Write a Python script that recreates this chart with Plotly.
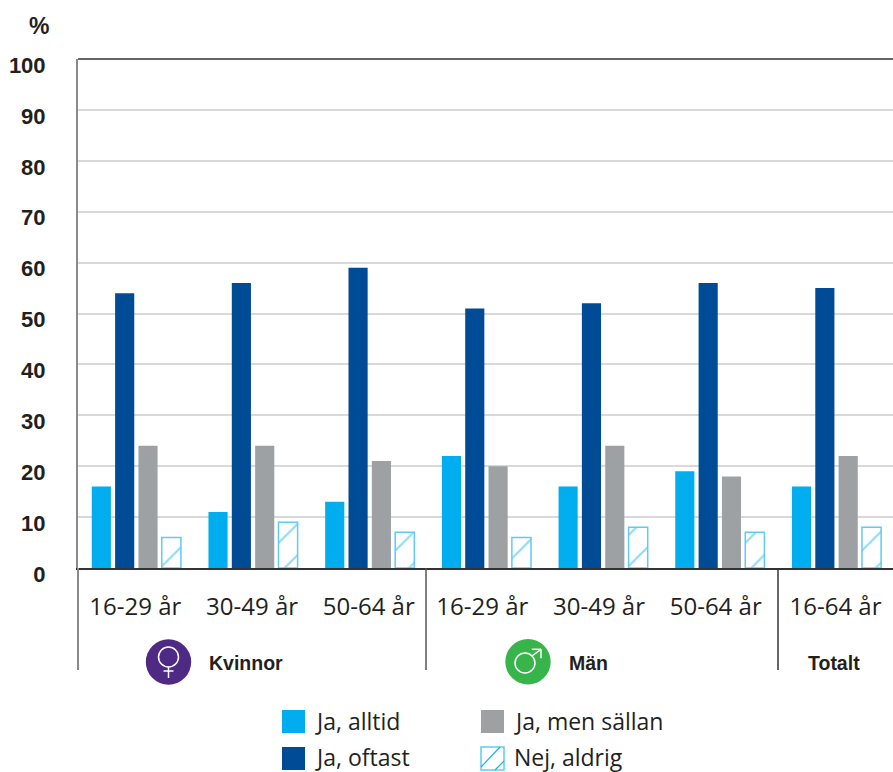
import plotly.graph_objects as go

categories = ["16-29 år", "30-49 år", "50-64 år", "16-29 år ", "30-49 år ", "50-64 år ", "16-64 år"]
tick_positions = [0, 1, 2, 3, 4, 5, 6]
ja_alltid = [16, 11, 13, 22, 16, 19, 16]
ja_oftast = [54, 56, 59, 51, 52, 56, 55]
ja_sallan = [24, 24, 21, 20, 24, 18, 22]
nej_aldrig = [6, 9, 7, 6, 8, 7, 8]
y_ticks = [0, 10, 20, 30, 40, 50, 60, 70, 80, 90, 100]

BLUE, NAVY, GREY = "#00aeef", "#004b96", "#9da1a4"
HATCH = "#14b4f0"
EDGE = "#5fcbf3"
TEXT = "#231f20"
W, H = 893, 772
L, T, B = 78, 59, 568
FONT = "Open Sans"
BOLD = "Liberation Sans"


def px(x):
    return (x - L) / (W - L)


def py(y):
    return (B - y) / (B - T)


def line(x0, y0, x1, y1, color, width=1.5):
    return dict(type="line", xref="paper", yref="paper", x0=px(x0), y0=py(y0), x1=px(x1), y1=py(y1),
                line=dict(color=color, width=width), layer="above")


def rect(x0, y0, x1, y1, fill, edge=None, width=0):
    return dict(type="rect", xref="paper", yref="paper", x0=px(x0), y0=py(y0), x1=px(x1), y1=py(y1),
                fillcolor=fill, line=dict(color=edge or fill, width=width), layer="above")


def circle(cx, cy, r, fill, edge=None, width=0):
    return dict(type="circle", xref="paper", yref="paper", x0=px(cx - r), y0=py(cy + r), x1=px(cx + r), y1=py(cy - r),
                fillcolor=fill, line=dict(color=edge or fill, width=width), layer="above")


fig = go.Figure()
for name, vals, col in [("Ja, alltid", ja_alltid, BLUE), ("Ja, oftast", ja_oftast, NAVY), ("Ja, men sällan", ja_sallan, GREY)]:
    fig.add_bar(name=name, x=tick_positions, y=vals, marker=dict(color=col, line=dict(width=0)))
fig.add_bar(name="Nej, aldrig", x=tick_positions, y=nej_aldrig,
            marker=dict(color="white", line=dict(color=EDGE, width=1.5),
                        pattern=dict(shape="/", fgcolor=HATCH, bgcolor="white", size=22, solidity=0.09)))

shapes = [
    line(L, T, W, T, "#333333", 1.5),
    line(L, B, L, 670, "#8a8a8a", 2),
    line(426, B, 426, 670, "#555555", 1.5),
    line(778, B, 778, 670, "#333333", 1.5),
    circle(168.5, 662, 22.7, "#4f2a84"),
    circle(168.5, 657, 10, "rgba(0,0,0,0)", "white", 1.5),
    line(168.5, 667, 168.5, 678, "white", 1.5),
    line(163.5, 671, 173.5, 671, "white", 1.5),
    circle(528, 661.7, 22.7, "#37b44a"),
    circle(525, 663, 10, "rgba(0,0,0,0)", "white", 1.5),
    line(532, 656, 541, 649.3, "white", 1.5),
    line(531.7, 649.3, 541, 649.3, "white", 1.5),
    line(541, 649.3, 541, 658.3, "white", 1.5),
    rect(282, 710, 305, 733, BLUE),
    rect(282, 747, 305, 770, NAVY),
    rect(481, 710, 504, 733, GREY),
    rect(481, 747, 504, 770, "white", EDGE, 1.5),
    line(481, 767, 500, 747, HATCH, 1.2),
    line(495, 770, 504, 761, HATCH, 1.2),
]

annotations = []


def label(x, y, text, size, family=FONT, bold=False, anchor="left"):
    annotations.append(dict(xref="paper", yref="paper", x=px(x), y=py(y), text=f"<b>{text}</b>" if bold else text,
                            showarrow=False, xanchor=anchor, yanchor="middle", align=anchor,
                            font=dict(family=family, size=size, color=TEXT)))


label(38.5, 26, "%", 23, BOLD, True, "center")
label(207, 663, "Kvinnor", 19.5, BOLD, True)
label(567, 663, "Män", 19.5, BOLD, True)
label(806, 663, "Totalt", 19.5, BOLD, True)
label(313, 720.5, "Ja, alltid", 23)
label(313, 756.5, "Ja, oftast", 23)
label(512, 720.5, "Ja, men sällan", 23)
label(512, 756.5, "Nej, aldrig", 23)

fig.update_layout(
    width=W, height=H, margin=dict(l=L, r=0, t=T, b=H - B, autoexpand=False),
    barmode="group", bargap=0.2, bargroupgap=0.18, showlegend=False,
    paper_bgcolor="white", plot_bgcolor="white",
    shapes=shapes, annotations=annotations,
    xaxis=dict(range=[-0.5, 6.484], tickmode="array", tickvals=tick_positions, ticktext=categories,
               showgrid=False, ticks="", showline=True, linecolor="#333333", linewidth=2,
               ticklabelstandoff=16, ticklabelshift=-1, tickfont=dict(family=FONT, size=24, color=TEXT)),
    yaxis=dict(range=[0, 100], tickmode="array", tickvals=y_ticks, showgrid=True, gridcolor="#d9d9d9", gridwidth=2,
               zeroline=False, ticks="", showline=True, linecolor="#8a8a8a", linewidth=2,
               ticklabelstandoff=26, ticklabelshift=6,
               tickfont=dict(family=BOLD, size=22, color=TEXT, weight="bold")),
)
fig.write_html("out.html", config={"displayModeBar": False}, post_script="document.body.style.margin='0';")
